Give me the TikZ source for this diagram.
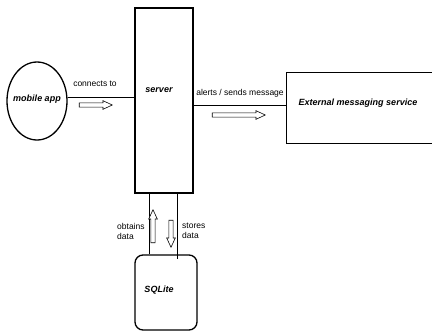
\documentclass[tikz,border=0pt]{standalone}
\usepackage{fontspec}
\setmainfont{Liberation Sans}
\usetikzlibrary{shapes.geometric,shapes.arrows}
\begin{document}
\begin{tikzpicture}[x=1pt,y=-1pt,
  box/.style={draw, line width=1.3pt, inner sep=0pt},
  conn/.style={draw, line width=0.8pt},
  bold/.style={font=\fontsize{9}{10}\selectfont\bfseries\itshape, inner sep=0pt},
  lbl/.style={font=\fontsize{8.5}{10}\selectfont, inner sep=0pt},
  harrow/.style={single arrow, draw, line width=0.6pt, fill=white, inner sep=1.8pt,
    single arrow head extend=2.2pt, single arrow tip angle=50, minimum width=0pt}]
\clip (0,0) rectangle (432,332);
\fill[white] (0,0) rectangle (432,332);
% nodes
\node[box, ellipse, minimum width=60pt, minimum height=78pt] (app) at (37,101) {};
\node[bold] (applbl) at (37,99) {mobile app};
\node[box, rectangle, minimum width=58pt, minimum height=185pt] (server) at (164,100.5) {};
\node[bold] (serverlbl) at (159,90) {server};
\node[box, rectangle, minimum width=160pt, minimum height=71pt, anchor=north west] (ext) at (286,72) {};
\node[bold] (extlbl) at (358,103) {External messaging service};
\node[box, rectangle, rounded corners=8pt, minimum width=62pt, minimum height=75pt] (db) at (166,292.5) {};
\node[bold] (dblbl) at (159,290) {SQLite};
% connectors
\draw[conn] (app.7) -- (server.west |- app.7);
\draw[conn] ([yshift=2.5pt]server.east |- ext.west) -- ([yshift=2.5pt]ext.west);
\draw[conn] ([xshift=-15pt]server.south) -- ([xshift=-15pt]server.south |- db.north);
\draw[conn] ([xshift=13pt]server.south) -- ([xshift=13pt,yshift=-5pt]server.south |- db.north);
% labels
\node[lbl] (l1) at (95,84) {connects to};
\node[lbl] (l2) at (240,93) {alerts / sends message};
\node[lbl, align=left, anchor=west] (l3) at (117,231) {obtains\\data};
\node[lbl, align=left, anchor=west] (l4) at (182,231) {stores\\data};
% hollow arrows
\node[harrow, minimum height=33pt] (a1) at (93.5,105) {};
\node[harrow, minimum height=53pt] (a2) at (236.5,115) {};
\node[harrow, minimum height=33pt, shape border rotate=90] (a3) at (153,228.5) {};
\node[harrow, minimum height=27pt, shape border rotate=270] (a4) at (171,231.5) {};
\end{tikzpicture}
\end{document}
